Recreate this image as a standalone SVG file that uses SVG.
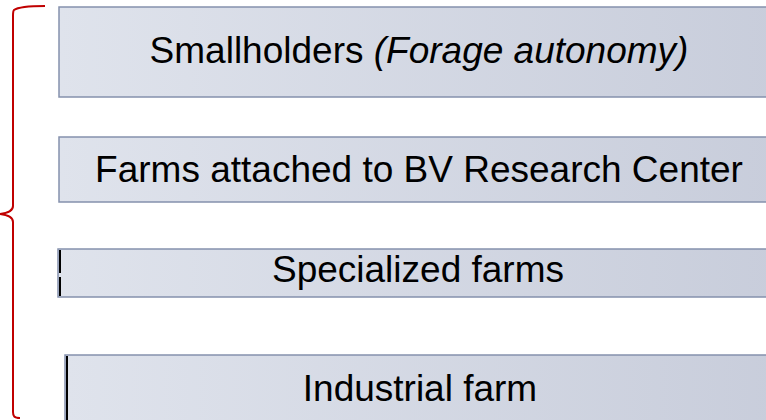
<svg xmlns="http://www.w3.org/2000/svg" width="766" height="420" viewBox="0 0 766 420">
  <defs>
    <linearGradient id="fillGrad" x1="0" y1="0" x2="1" y2="0">
      <stop offset="0" stop-color="#dfe3ec"/>
      <stop offset="1" stop-color="#c8cddb"/>
    </linearGradient>
    <style>
      .box { fill: url(#fillGrad); stroke: #8591ad; stroke-width: 1.5; }
      .lbl { font-family: "Liberation Sans", Arial, sans-serif; font-size: 37px; fill: #000; text-anchor: middle; }
      .edge { stroke: #000; stroke-width: 2; }
      .brace { fill: none; stroke: #c00000; stroke-width: 2; }
    </style>
  </defs>
  <rect width="766" height="420" fill="#ffffff"/>

  <g id="brace">
    <path class="brace" d="M45,6 C30,6 18,7 14,10 C13,11 13,13 13,16 L13,206 C13,211 8,213 0,214 C8,215 13,217 13,222 L13,412 C13,416 14,418 20,418"/>
  </g>

  <g id="node-smallholders">
    <rect class="box" x="59" y="7" width="720" height="90"/>
    <text class="lbl" x="419" y="63">Smallholders <tspan font-style="italic">(Forage autonomy)</tspan></text>
  </g>

  <g id="node-farms-bv">
    <rect class="box" x="59" y="137" width="720" height="65"/>
    <text class="lbl" x="419" y="182">Farms attached to BV Research Center</text>
  </g>

  <g id="node-specialized">
    <rect class="box" x="58" y="249" width="720" height="48"/>
    <line class="edge" x1="60" y1="250" x2="60" y2="273"/>
    <line class="edge" x1="60" y1="277" x2="60" y2="296"/>
    <text class="lbl" x="418" y="282">Specialized farms</text>
  </g>

  <g id="node-industrial">
    <rect class="box" x="65" y="355" width="720" height="80"/>
    <line class="edge" x1="67" y1="356" x2="67" y2="420"/>
    <text class="lbl" x="420" y="401">Industrial farm</text>
  </g>

  <g id="connectors"></g>
</svg>
